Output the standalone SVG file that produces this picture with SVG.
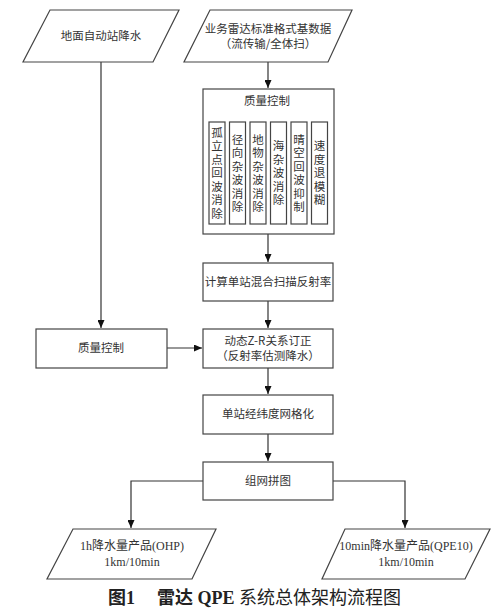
<svg xmlns="http://www.w3.org/2000/svg" width="500" height="614" viewBox="0 0 500 614">
<defs>
<marker id="arr" viewBox="0 0 8 7" refX="8" refY="3.5" markerWidth="8" markerHeight="7" markerUnits="userSpaceOnUse" orient="auto">
<path d="M0,0 L8,3.5 L0,7 Z" fill="#111"/>
</marker>
<style>
.s{fill:#fff;stroke:#444;stroke-width:1.2}
.t{font-family:"Noto Sans CJK SC","Liberation Sans",sans-serif;font-size:11.5px;fill:#333;text-anchor:middle}
.v{font-family:"Noto Sans CJK SC","Liberation Sans",sans-serif;font-size:11.5px;fill:#333;text-anchor:middle;writing-mode:tb;letter-spacing:2px}
.m{font-family:"Liberation Serif","Noto Sans CJK SC",serif;font-size:12px;fill:#333;text-anchor:middle}
.c{fill:none;stroke:#333;stroke-width:1.2}
</style>
</defs>
<rect width="500" height="614" fill="#fff"/>
<g id="connectors">
<path class="c" d="M101,62 V328" marker-end="url(#arr)"/>
<path class="c" d="M268,62 V88" marker-end="url(#arr)"/>
<path class="c" d="M268,234 V262" marker-end="url(#arr)"/>
<path class="c" d="M268,301 V328" marker-end="url(#arr)"/>
<path class="c" d="M167,348 H202" marker-end="url(#arr)"/>
<path class="c" d="M268,368 V394" marker-end="url(#arr)"/>
<path class="c" d="M268,434 V461" marker-end="url(#arr)"/>
<path class="c" d="M203,481 H131 V528" marker-end="url(#arr)"/>
<path class="c" d="M333,481 H405 V528" marker-end="url(#arr)"/>
</g>
<g id="n_ground">
<polygon class="s" points="50,10 179,10 153,62 23,62"/>
<text class="t" x="101" y="40">地面自动站降水</text>
</g>
<g id="n_radar">
<polygon class="s" points="210,10 352,10 328,62 184,62"/>
<text class="t" x="268" y="33">业务雷达标准格式基数据</text>
<text class="t" x="268" y="48">（流传输/全体扫）</text>
</g>
<g id="n_qc">
<rect class="s" x="203" y="89" width="131" height="145"/>
<text class="t" x="267" y="105" font-size="12">质量控制</text>
</g>
<g id="n_qc1"><rect class="s" x="209" y="122" width="16" height="102"/>
<text class="v" x="217" y="174">孤立点回波消除</text></g>
<g id="n_qc2"><rect class="s" x="229.5" y="122" width="16" height="102"/>
<text class="v" x="237.5" y="174">径向杂波消除</text></g>
<g id="n_qc3"><rect class="s" x="250" y="122" width="16" height="102"/>
<text class="v" x="258" y="174">地物杂波消除</text></g>
<g id="n_qc4"><rect class="s" x="270.5" y="122" width="16" height="102"/>
<text class="v" x="278.5" y="174">海杂波消除</text></g>
<g id="n_qc5"><rect class="s" x="291" y="122" width="16" height="102"/>
<text class="v" x="299" y="174">晴空回波抑制</text></g>
<g id="n_qc6"><rect class="s" x="311.5" y="122" width="16" height="102"/>
<text class="v" x="319.5" y="174">速度退模糊</text></g>
<g id="n_mix">
<rect class="s" x="203" y="263" width="130" height="38"/>
<text class="t" x="268" y="286">计算单站混合扫描反射率</text>
</g>
<g id="n_qc_ground">
<rect class="s" x="36" y="329" width="131" height="39"/>
<text class="t" x="101" y="352">质量控制</text>
</g>
<g id="n_zr">
<rect class="s" x="203" y="329" width="130" height="39"/>
<text class="t" x="268" y="345">动态Z-R关系订正</text>
<text class="t" x="268" y="360">（反射率估测降水）</text>
</g>
<g id="n_grid">
<rect class="s" x="203" y="395" width="130" height="39"/>
<text class="t" x="268" y="418">单站经纬度网格化</text>
</g>
<g id="n_mosaic">
<rect class="s" x="203" y="462" width="130" height="38"/>
<text class="t" x="268" y="485">组网拼图</text>
</g>
<g id="n_ohp">
<polygon class="s" points="73,529 216,529 192,579 47,579"/>
<text class="m" x="132" y="550">1h降水量产品(OHP)</text>
<text class="m" x="132" y="566">1km/10min</text>
</g>
<g id="n_qpe10">
<polygon class="s" points="345,529 490,529 465,579 322,579"/>
<text class="m" x="406" y="550">10min降水量产品(QPE10)</text>
<text class="m" x="406" y="566">1km/10min</text>
</g>
<g id="caption">
<text x="108" y="604" font-family="Liberation Serif,'Noto Sans CJK SC',serif" font-size="18" font-weight="bold" fill="#222">图1</text>
<text x="157" y="604" font-family="Liberation Serif,'Noto Sans CJK SC',serif" font-size="18" fill="#222"><tspan font-weight="bold">雷达 QPE </tspan>系统总体架构流程图</text>
</g>
</svg>
